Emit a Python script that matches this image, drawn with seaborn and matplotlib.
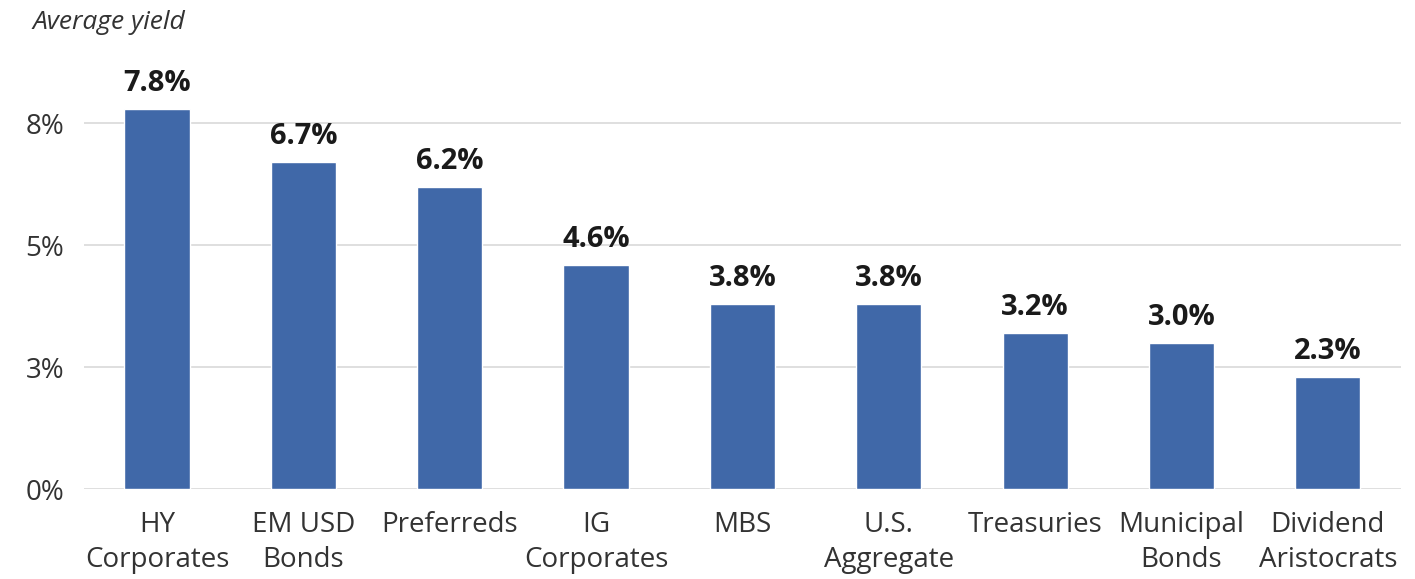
import matplotlib
matplotlib.use("Agg")
import matplotlib.pyplot as plt
import seaborn as sns
import pandas as pd

categories = ["HY\nCorporates", "EM USD\nBonds", "Preferreds", "IG\nCorporates", "MBS",
              "U.S.\nAggregate", "Treasuries", "Municipal\nBonds", "Dividend\nAristocrats"]
yields = [7.8, 6.7, 6.2, 4.6, 3.8, 3.8, 3.2, 3.0, 2.3]
value_labels = ["7.8%", "6.7%", "6.2%", "4.6%", "3.8%", "3.8%", "3.2%", "3.0%", "2.3%"]
ytick_values = [0, 2.5, 5, 7.5]
ytick_labels = ["0%", "3%", "5%", "8%"]
title = "Average yield"

sns.set_theme(style="white")
plt.rcParams['font.family'] = ['Open Sans', 'DejaVu Sans']

df = pd.DataFrame({"category": categories, "yield": yields})

fig = plt.figure(figsize=(14.15, 5.79), dpi=100)
ax = fig.add_axes([0.0592, 0.1554, 0.9309, 0.758])

sns.barplot(data=df, x="category", y="yield", color="#4068A8", saturation=1,
            width=0.445, ax=ax, zorder=3)

ax.set_ylim(0, 9)
ax.set_xlim(-0.5, len(categories) - 0.5)
ax.set_yticks(ytick_values)
ax.set_yticklabels(ytick_labels, fontsize=20, color="#333333")
ax.tick_params(axis="y", length=0, pad=14)
ax.tick_params(axis="x", length=0, pad=16)
for lbl in ax.get_xticklabels():
    lbl.set_fontsize(20)
    lbl.set_color("#333333")
    lbl.set_linespacing(1.33)
ax.set_xlabel("")
ax.set_ylabel("")
ax.yaxis.grid(True, color="#D9D9D9", linewidth=1.2, zorder=0)
ax.set_axisbelow(True)
for s in ax.spines.values():
    s.set_visible(False)

for bar, txt in zip(ax.patches, value_labels):
    ax.annotate(txt, (bar.get_x() + bar.get_width() / 2, bar.get_height()),
                xytext=(0, 8), textcoords="offset points", ha="center", va="bottom",
                fontsize=21, fontweight="bold", color="#1a1a1a")

fig.text(0.023, 0.962, title, fontsize=19, style="italic", color="#333333",
         ha="left", va="center")

fig.savefig("out.png", dpi=100)
